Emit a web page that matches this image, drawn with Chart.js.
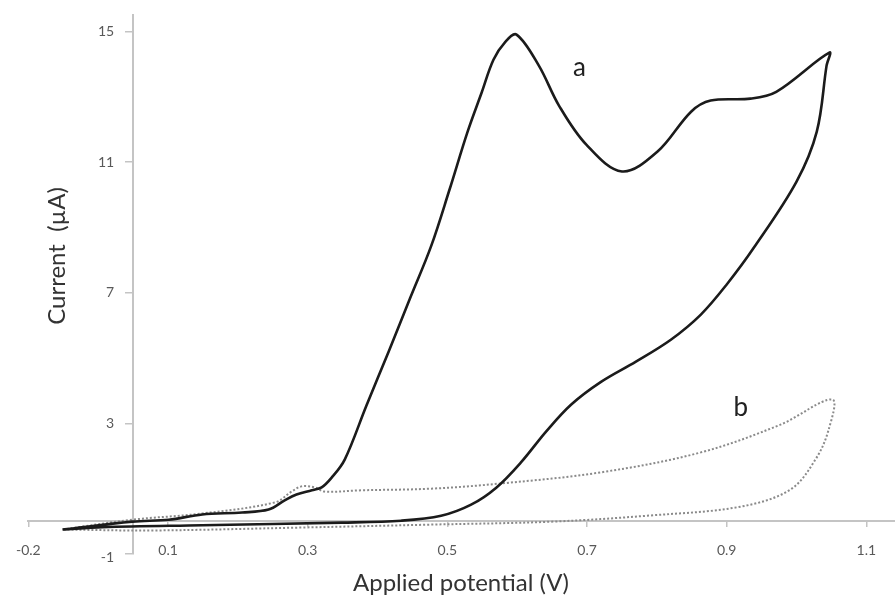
<!DOCTYPE html>
<html>
<head>
<meta charset="utf-8">
<script src="https://cdn.jsdelivr.net/npm/chart.js@4"></script>
<style>
  html, body { margin: 0; padding: 0; background: #fff; }
  #wrap { width: 895px; height: 604px; position: relative; }
</style>
</head>
<body>
<div id="wrap"><canvas id="cvChart"></canvas></div>
<script>
// tick positions and the labels printed under/next to them
var xTickVals = [-0.1, 0.1, 0.3, 0.5, 0.7, 0.9, 1.1];
var xTickLabels = ['-0.2', '0.1', '0.3', '0.5', '0.7', '0.9', '1.1'];
var yTickVals = [-1, 3, 7, 11, 15];
var yTickLabels = ['-1', '3', '7', '11', '15'];

// curve a (solid): potential (V) and current (uA), traced round the loop
var aPotential = [-0.051, 0.049, 0.101, 0.149, 0.206, 0.244, 0.267, 0.284, 0.306, 0.32,
                  0.334, 0.353, 0.384, 0.416, 0.447, 0.477, 0.503, 0.529, 0.549, 0.566, 0.583,
                  0.599, 0.631, 0.66, 0.699, 0.75, 0.801, 0.849, 0.877, 0.934, 0.971, 1.047,
                  1.043, 1.029, 1.0, 0.939, 0.9, 0.863, 0.82, 0.77, 0.72, 0.677, 0.641,
                  0.606, 0.57, 0.534, 0.491, 0.434, 0.349, 0.149, 0.006, -0.051];
var aCurrent = [-0.25, -0.01, 0.05, 0.21, 0.27, 0.36, 0.64, 0.82, 0.95, 1.04,
                1.33, 1.89, 3.54, 5.2, 6.85, 8.44, 10.15, 11.93, 13.12, 14.13, 14.68,
                14.9, 13.95, 12.72, 11.53, 10.71, 11.32, 12.54, 12.88, 12.94, 13.15, 14.35,
                13.95, 11.93, 10.4, 8.38, 7.25, 6.33, 5.56, 4.89, 4.27, 3.57, 2.74,
                1.82, 1.03, 0.51, 0.17, 0.02, -0.04, -0.12, -0.18, -0.25];

// curve b (dotted)
var bPotential = [-0.051, 0.049, 0.149, 0.253, 0.277, 0.291, 0.31, 0.324, 0.377, 0.477,
                  0.577, 0.72, 0.863, 0.977, 1.051,
                  1.046, 1.027, 0.991, 0.92, 0.791, 0.649, 0.477, 0.291, 0.077, -0.051];
var bCurrent = [-0.25, 0.05, 0.24, 0.58, 0.91, 1.07, 1.04, 0.91, 0.95, 1.0,
                1.16, 1.5, 2.11, 2.96, 3.73,
                2.81, 1.89, 0.97, 0.45, 0.18, -0.01, -0.1, -0.19, -0.28, -0.25];

// curve tags drawn on the plot
var tagText = ['a', 'b'];
var tagX = [0.689, 0.92];
var tagY = [13.89, 3.48];

var FONT = 'Lato, "Open Sans", sans-serif';

function toPoints(xs, ys) {
  return xs.map(function (x, i) { return { x: x, y: ys[i] }; });
}

// y tick labels, curve tags and the two axis titles
var labelPlugin = {
  id: 'labelPlugin',
  afterDraw: function (chart) {
    var ctx = chart.ctx;
    var xs = chart.scales.x, ys = chart.scales.y;
    var axisX = xs.getPixelForValue(0.05);
    ctx.save();
    ctx.fillStyle = '#595959';
    ctx.font = '14px ' + FONT;
    ctx.textAlign = 'right';
    ctx.textBaseline = 'middle';
    for (var k = 0; k < yTickVals.length; k++) {
      var py = ys.getPixelForValue(yTickVals[k]);
      if (yTickVals[k] === -1) py += 3;
      ctx.fillText(yTickLabels[k], axisX - 19, py);
    }

    ctx.fillStyle = '#222';
    ctx.textAlign = 'center';
    ctx.font = '26px ' + FONT;
    for (var i = 0; i < tagText.length; i++) {
      ctx.fillText(tagText[i], xs.getPixelForValue(tagX[i]), ys.getPixelForValue(tagY[i]));
    }
    ctx.fillStyle = '#333';
    ctx.font = '24px ' + FONT;
    ctx.fillText('Applied potential (V)', 461, 583);
    ctx.translate(57, 256);
    ctx.rotate(-Math.PI / 2);
    ctx.fillText('Current  (\u00b5A)', 0, 0);
    ctx.restore();
  }
};

new Chart(document.getElementById('cvChart'), {
  type: 'scatter',
  data: {
    datasets: [{
      label: 'a',
      data: toPoints(aPotential, aCurrent),
      showLine: true,
      borderColor: '#1b1b1b',
      borderWidth: 2.6,
      pointRadius: 0,
      tension: 0.35,
      fill: false
    }, {
      label: 'b',
      data: toPoints(bPotential, bCurrent),
      showLine: true,
      borderColor: '#8a8a8a',
      borderWidth: 2,
      borderDash: [2, 2],
      pointRadius: 0,
      tension: 0.35,
      fill: false
    }]
  },
  options: {
    responsive: true,
    maintainAspectRatio: false,
    animation: false,
    layout: { padding: { left: 26, right: 0, top: 15, bottom: 50 } },
    plugins: {
      legend: { display: false },
      tooltip: { enabled: false }
    },
    scales: {
      x: {
        type: 'linear',
        min: -0.1,
        max: 1.141,
        position: { y: 0 },
        afterBuildTicks: function (scale) {
          scale.ticks = xTickVals.map(function (v) { return { value: v }; });
        },
        ticks: {
          autoSkip: false,
          maxRotation: 0,
          padding: 16,
          color: '#595959',
          font: { family: FONT, size: 14 },
          callback: function (value, index) { return xTickLabels[index]; }
        },
        grid: { drawOnChartArea: false, drawTicks: true, tickLength: 5, color: '#c4c4c4', lineWidth: 1.5 },
        border: { color: '#c4c4c4', width: 2 }
      },
      y: {
        type: 'linear',
        min: -1,
        max: 15.5,
        position: { x: 0.05 },
        afterBuildTicks: function (scale) {
          scale.ticks = yTickVals.map(function (v) { return { value: v }; });
        },
        ticks: { display: false },
        grid: { drawOnChartArea: false, drawTicks: true, tickLength: 7, color: '#c4c4c4', lineWidth: 1.5 },
        border: { color: '#c4c4c4', width: 2 }
      }
    }
  },
  plugins: [labelPlugin]
});
</script>
</body>
</html>
